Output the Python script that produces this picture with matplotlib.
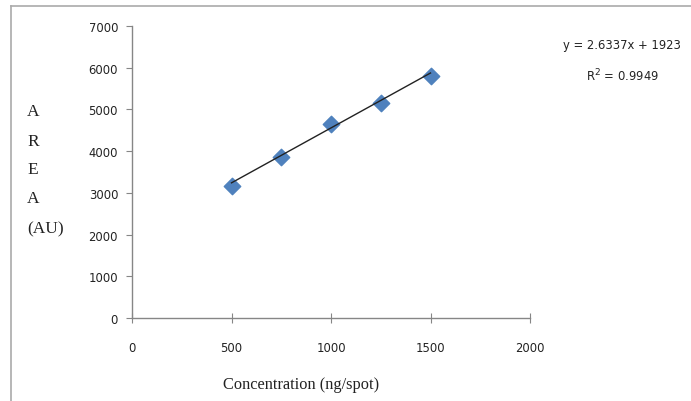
import matplotlib.pyplot as plt
from matplotlib.lines import Line2D
import numpy as np

# Datos
concentracion = [500, 750, 1000, 1250, 1500]
area = [3160, 3870, 4660, 5160, 5810]
pendiente = 2.6337
ordenada = 1923
xticks = [0, 500, 1000, 1500, 2000]
yticks = [0, 1000, 2000, 3000, 4000, 5000, 6000, 7000]

W, H = 691, 402
fig = plt.figure(figsize=(W / 100, H / 100), dpi=100)
ax = fig.add_axes([132 / W, (H - 319) / H, (530 - 132) / W, (319 - 27) / H])

gris = '#868686'
tick_font = dict(family='DejaVu Sans', stretch='condensed', size=9.3, color='#222222')

# Puntos y línea de tendencia
ax.scatter(concentracion, area, marker='D', s=70, color='#4F81BD', zorder=3)
xs = np.array([concentracion[0], concentracion[-1]])
ax.plot(xs, pendiente * xs + ordenada, color='#222222', lw=1, zorder=4)

ax.set_xlim(0, 2000)
ax.set_ylim(0, 7000)
ax.set_xticks(xticks)
ax.set_yticks(yticks)
ax.set_xticklabels([str(t) for t in xticks], fontdict=tick_font)
ax.set_yticklabels([str(t) for t in yticks], fontdict=tick_font)
ax.tick_params(axis='x', length=7, color=gris, direction='inout', pad=13)
ax.tick_params(axis='y', length=4, color=gris, direction='out', pad=6)

for s in ['top', 'right']:
    ax.spines[s].set_visible(False)
for s in ['left', 'bottom']:
    ax.spines[s].set_color(gris)
    ax.spines[s].set_linewidth(1)

# Etiquetas de ejes
fig.text(223 / W, 1 - 385 / H, 'Concentration (ng/spot)', family='Liberation Serif',
         size=11.8, va='center', ha='left', color='#222222')
for letra, yy in zip(['A', 'R', 'E', 'A', '(AU)'], [112, 142, 170, 199, 229]):
    fig.text(27 / W, 1 - yy / H, letra, family='Liberation Serif', size=12.5,
             va='center', ha='left', color='#222222')

# Ecuación
fig.text(622 / W, 1 - 46 / H, 'y = 2.6337x + 1923', ha='center', va='center', **tick_font)
fig.text(622 / W, 1 - 76 / H, 'R$^2$ = 0.9949', ha='center', va='center', **tick_font)

# Marco
fig.add_artist(Line2D([11 / W, 1], [1 - 7 / H, 1 - 7 / H], color='#aaaaaa', lw=1.2,
                      transform=fig.transFigure))
fig.add_artist(Line2D([11 / W, 11 / W], [0, 1 - 7 / H], color='#aaaaaa', lw=1.2,
                      transform=fig.transFigure))

plt.savefig('out.png', dpi=100)
